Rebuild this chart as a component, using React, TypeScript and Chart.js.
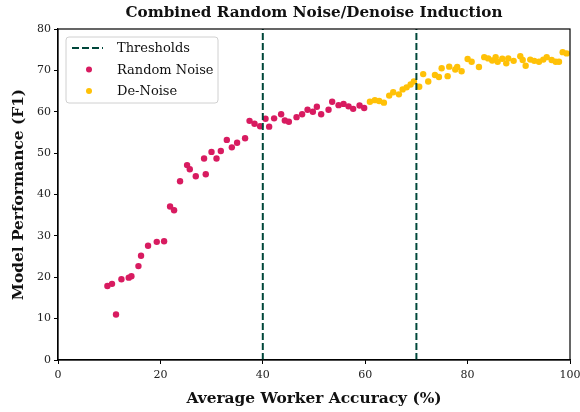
import React, { useEffect, useRef } from 'react';
import { Chart, registerables } from 'chart.js';

Chart.register(...registerables);

// ---- Data ----
const chartTitle = 'Combined Random Noise/Denoise Induction';
const xAxisTitle = 'Average Worker Accuracy (%)';
const yAxisTitle = 'Model Performance (F1)';

const thresholdLabel = 'Thresholds';
const thresholds = [40, 70];

const noiseLabel = 'Random Noise';
const noiseX = [9.65, 10.55, 11.33, 12.39, 13.82, 14.34, 15.71, 16.22, 17.59, 19.29, 20.72, 21.89, 22.67, 23.84, 25.21, 25.74, 26.91, 28.53, 28.86, 29.98, 30.96, 31.8, 32.97, 33.95, 34.98, 36.54, 37.41, 38.38, 39.48, 40.53, 41.24, 42.21, 43.58, 44.3, 45.09, 46.59, 47.68, 48.74, 49.78, 50.56, 51.4, 52.84, 53.55, 54.8, 55.77, 56.75, 57.65, 58.9, 59.8];
const noiseY = [17.9, 18.4, 11.0, 19.5, 19.9, 20.25, 22.7, 25.2, 27.6, 28.55, 28.7, 37.1, 36.2, 43.2, 47.1, 46.1, 44.4, 48.7, 44.9, 50.3, 48.7, 50.5, 53.2, 51.4, 52.5, 53.6, 57.8, 57.1, 56.5, 58.3, 56.4, 58.4, 59.4, 57.9, 57.6, 58.7, 59.4, 60.5, 60.0, 61.2, 59.4, 60.5, 62.4, 61.6, 61.9, 61.3, 60.7, 61.5, 60.9];

const denoiseLabel = 'De-Noise';
const denoiseX = [60.92, 61.89, 62.73, 63.65, 64.69, 65.47, 66.58, 67.31, 68.09, 68.87, 69.51, 70.55, 71.33, 72.31, 73.62, 74.4, 74.93, 76.1, 76.41, 77.59, 77.97, 78.83, 80.01, 80.79, 82.22, 83.25, 84.03, 84.81, 85.48, 85.87, 86.77, 87.55, 87.94, 88.99, 90.29, 90.76, 91.34, 92.24, 93.02, 93.94, 94.78, 95.45, 96.42, 97.21, 97.85, 98.57, 99.35];
const denoiseY = [62.4, 62.8, 62.6, 62.2, 63.9, 64.7, 64.2, 65.4, 65.9, 66.6, 67.3, 66.05, 69.1, 67.3, 68.9, 68.4, 70.5, 68.6, 70.9, 70.2, 70.8, 69.8, 72.75, 72.1, 70.8, 73.2, 72.9, 72.4, 73.2, 72.1, 72.8, 71.7, 72.9, 72.3, 73.4, 72.5, 71.1, 72.6, 72.3, 72.1, 72.6, 73.2, 72.5, 72.1, 72.1, 74.4, 74.1];

const xRange = [0, 100];
const yRange = [0, 80];
const xStep = 20;
const yStep = 10;

// ---- Styles ----
const SERIF = '"DejaVu Serif", "Liberation Serif", serif';
const thresholdColor = '#00473a';
const noiseColor = '#d81b60';
const denoiseColor = '#ffc107';

const frameLegendTitle = {
  id: 'frameLegendTitle',
  afterDatasetsDraw(chart: any) {
    const { ctx, chartArea: a } = chart;
    ctx.save();
    // frame
    ctx.strokeStyle = '#000';
    ctx.lineWidth = 1.2;
    ctx.strokeRect(a.left, a.top, a.right - a.left, a.bottom - a.top);

    // title, centred over the plot area
    ctx.fillStyle = '#111';
    ctx.font = `bold 15.2px ${SERIF}`;
    ctx.textAlign = 'center';
    ctx.textBaseline = 'middle';
    ctx.fillText(chartTitle, (a.left + a.right) / 2, a.top - 16);

    // legend
    const bx = a.left + 8;
    const by = a.top + 8;
    const bw = 152;
    const bh = 66;
    ctx.beginPath();
    const r = 3;
    ctx.moveTo(bx + r, by);
    ctx.lineTo(bx + bw - r, by);
    ctx.quadraticCurveTo(bx + bw, by, bx + bw, by + r);
    ctx.lineTo(bx + bw, by + bh - r);
    ctx.quadraticCurveTo(bx + bw, by + bh, bx + bw - r, by + bh);
    ctx.lineTo(bx + r, by + bh);
    ctx.quadraticCurveTo(bx, by + bh, bx, by + bh - r);
    ctx.lineTo(bx, by + r);
    ctx.quadraticCurveTo(bx, by, bx + r, by);
    ctx.closePath();
    ctx.fillStyle = 'rgba(255,255,255,0.85)';
    ctx.fill();
    ctx.strokeStyle = '#d0d0d0';
    ctx.lineWidth = 1;
    ctx.stroke();

    const items = chart.data.datasets.filter((d: any) => d.label);
    ctx.font = `13px ${SERIF}`;
    ctx.textBaseline = 'middle';
    ctx.textAlign = 'left';
    items.forEach((d: any, i: number) => {
      const y = by + 11 + i * 21.5;
      if (d.type === 'line') {
        ctx.strokeStyle = d.borderColor;
        ctx.lineWidth = 2;
        ctx.setLineDash([7, 3]);
        ctx.beginPath();
        ctx.moveTo(bx + 6, y);
        ctx.lineTo(bx + 37, y);
        ctx.stroke();
        ctx.setLineDash([]);
      } else {
        ctx.fillStyle = d.backgroundColor;
        ctx.beginPath();
        ctx.arc(bx + 23, y, 3, 0, Math.PI * 2);
        ctx.fill();
      }
      ctx.fillStyle = '#111';
      ctx.fillText(d.label, bx + 51, y + 1);
    });
    ctx.restore();
  },
};

export default function App() {
  const ref = useRef<HTMLCanvasElement | null>(null);

  useEffect(() => {
    document.body.style.margin = '0';
    const canvas = ref.current;
    if (!canvas) return;

    const thresholdSets = thresholds.map((t, i) => ({
      type: 'line' as const,
      label: i === 0 ? thresholdLabel : '',
      data: [
        { x: t, y: yRange[0] },
        { x: t, y: yRange[1] },
      ],
      borderColor: thresholdColor,
      backgroundColor: thresholdColor,
      borderWidth: 2,
      borderDash: [7, 3],
      pointRadius: 0,
      fill: false,
    }));

    const chart = new Chart(canvas, {
      type: 'scatter',
      data: {
        datasets: [
          ...thresholdSets,
          {
            type: 'scatter' as const,
            label: noiseLabel,
            data: noiseX.map((x, i) => ({ x, y: noiseY[i] })),
            backgroundColor: noiseColor,
            borderColor: noiseColor,
            pointRadius: 3.2,
            borderWidth: 0,
          },
          {
            type: 'scatter' as const,
            label: denoiseLabel,
            data: denoiseX.map((x, i) => ({ x, y: denoiseY[i] })),
            backgroundColor: denoiseColor,
            borderColor: denoiseColor,
            pointRadius: 3.2,
            borderWidth: 0,
          },
        ] as any,
      },
      options: {
        responsive: false,
        animation: false,
        layout: { padding: { left: 0, right: 10, top: 29, bottom: 0 } },
        plugins: {
          legend: { display: false },
          tooltip: { enabled: false },
          title: { display: false },
        },
        scales: {
          x: {
            type: 'linear',
            min: xRange[0],
            max: xRange[1],
            afterFit: (s: any) => {
              s.height = 52;
              s.paddingLeft = 0;
              s.paddingRight = 0;
            },
            ticks: {
              stepSize: xStep,
              color: '#222',
              font: { family: SERIF, size: 11 },
              padding: 5,
              maxRotation: 0,
            },
            grid: {
              display: true,
              drawOnChartArea: false,
              drawTicks: true,
              tickLength: 4,
              color: '#000',
            },
            border: { display: true, color: '#000', width: 1.2 },
            title: {
              display: true,
              text: xAxisTitle,
              color: '#111',
              font: { family: SERIF, size: 15.4, weight: 'bold', lineHeight: 1.2 },
              padding: { top: 0, bottom: 4 },
            },
          },
          y: {
            type: 'linear',
            min: yRange[0],
            max: yRange[1],
            afterFit: (s: any) => {
              s.width = 58;
              s.paddingTop = 0;
              s.paddingBottom = 0;
            },
            ticks: {
              stepSize: yStep,
              color: '#222',
              font: { family: SERIF, size: 11 },
              padding: 3,
            },
            grid: {
              display: true,
              drawOnChartArea: false,
              drawTicks: true,
              tickLength: 4,
              color: '#000',
            },
            border: { display: true, color: '#000', width: 1.2 },
            title: {
              display: true,
              text: yAxisTitle,
              color: '#111',
              font: { family: SERIF, size: 15.4, weight: 'bold', lineHeight: 1.2 },
              padding: { top: 10, bottom: 0 },
            },
          },
        },
      },
      plugins: [frameLegendTitle],
    });

    return () => chart.destroy();
  }, []);

  return (
    <div style={{ position: 'absolute', left: 0, top: 0, width: 580, height: 412, background: '#fff' }}>
      <canvas ref={ref} width={580} height={412} style={{ display: 'block' }} />
    </div>
  );
}
